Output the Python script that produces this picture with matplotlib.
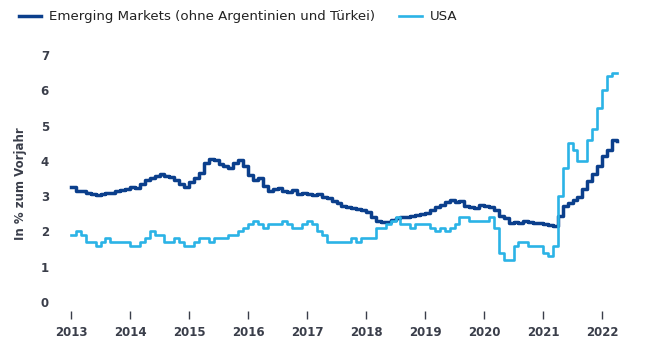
import numpy as np
import matplotlib.pyplot as plt

# monthly values, Jan 2013 - Mar 2022
years = np.arange(2013, 2023)

us_core = [
    1.9, 2.0, 1.9, 1.7, 1.7, 1.6, 1.7, 1.8, 1.7, 1.7, 1.7, 1.7,   # 2013
    1.6, 1.6, 1.7, 1.8, 2.0, 1.9, 1.9, 1.7, 1.7, 1.8, 1.7, 1.6,   # 2014
    1.6, 1.7, 1.8, 1.8, 1.7, 1.8, 1.8, 1.8, 1.9, 1.9, 2.0, 2.1,   # 2015
    2.2, 2.3, 2.2, 2.1, 2.2, 2.2, 2.2, 2.3, 2.2, 2.1, 2.1, 2.2,   # 2016
    2.3, 2.2, 2.0, 1.9, 1.7, 1.7, 1.7, 1.7, 1.7, 1.8, 1.7, 1.8,   # 2017
    1.8, 1.8, 2.1, 2.1, 2.2, 2.3, 2.4, 2.2, 2.2, 2.1, 2.2, 2.2,   # 2018
    2.2, 2.1, 2.0, 2.1, 2.0, 2.1, 2.2, 2.4, 2.4, 2.3, 2.3, 2.3,   # 2019
    2.3, 2.4, 2.1, 1.4, 1.2, 1.2, 1.6, 1.7, 1.7, 1.6, 1.6, 1.6,   # 2020
    1.4, 1.3, 1.6, 3.0, 3.8, 4.5, 4.3, 4.0, 4.0, 4.6, 4.9, 5.5,   # 2021
    6.0, 6.4, 6.5,                                                 # 2022
]

em = [
    3.25, 3.14, 3.15, 3.09, 3.05, 3.03, 3.06, 3.10, 3.08, 3.15, 3.18, 3.20,
    3.26, 3.23, 3.33, 3.45, 3.50, 3.56, 3.62, 3.58, 3.55, 3.45, 3.35, 3.25,
    3.40, 3.50, 3.65, 3.93, 4.05, 4.02, 3.90, 3.85, 3.80, 3.95, 4.02, 3.85,
    3.60, 3.45, 3.50, 3.30, 3.15, 3.20, 3.22, 3.15, 3.12, 3.16, 3.05, 3.08,
    3.05, 3.03, 3.05, 2.98, 2.95, 2.85, 2.80, 2.72, 2.68, 2.66, 2.63, 2.60,
    2.55, 2.42, 2.30, 2.27, 2.27, 2.33, 2.38, 2.40, 2.42, 2.44, 2.47, 2.50,
    2.52, 2.60, 2.70, 2.75, 2.83, 2.88, 2.82, 2.85, 2.72, 2.68, 2.66, 2.75,
    2.72, 2.70, 2.60, 2.45, 2.38, 2.25, 2.27, 2.24, 2.30, 2.28, 2.25, 2.24,
    2.22, 2.18, 2.14, 2.45, 2.72, 2.80, 2.88, 2.98, 3.20, 3.42, 3.62, 3.85,
    4.15, 4.30, 4.60,
]

dark = '#0b3f8c'
light = '#2bb3e6'
txt = '#3a3e4a'

# decimal-year x, plus one extra step so the last month is drawn
x = 2013 + np.arange(len(us_core) + 1) / 12
us_y = us_core + [us_core[-1]]
em_y = em + [4.55]

fig = plt.figure(figsize=(6.5, 3.5), dpi=100)
ax = fig.add_axes([60 / 650, (350 - 311) / 350, 570 / 650, 271 / 350])

ax.plot(x, em_y, drawstyle='steps-post', color=dark, lw=2.5,
        label='Emerging Markets (ohne Argentinien und Türkei)')
ax.plot(x, us_y, drawstyle='steps-post', color=light, lw=1.9, label='USA')

x0 = 2013 - 11 / 59
ax.set_xlim(x0, x0 + 570 / 59)
ax.set_ylim(-9 / 35.3, 7 + 15 / 35.3)

ax.set_xticks(years)
ax.set_xticklabels([str(y) for y in years])
ax.set_yticks(range(8))
for s in ax.spines.values():
    s.set_visible(False)
ax.tick_params(axis='x', length=6, width=1, color=txt, pad=5,
               labelsize=8.5, labelcolor=txt)
ax.tick_params(axis='y', length=0, pad=8, labelsize=8.5, labelcolor=txt)
for lab in ax.get_xticklabels() + ax.get_yticklabels():
    lab.set_fontweight('bold')

ax.set_ylabel('In % zum Vorjahr', fontsize=8.5, fontweight='bold', color=txt)
ax.yaxis.set_label_coords(-33 / 570, 0.47)

fig.legend(loc='upper left', bbox_to_anchor=(0.01, 1.005), ncol=2,
           frameon=False, fontsize=9.6, handlelength=1.7, columnspacing=1.8,
           handletextpad=0.6, labelcolor='#222222')

plt.savefig('out.png')
